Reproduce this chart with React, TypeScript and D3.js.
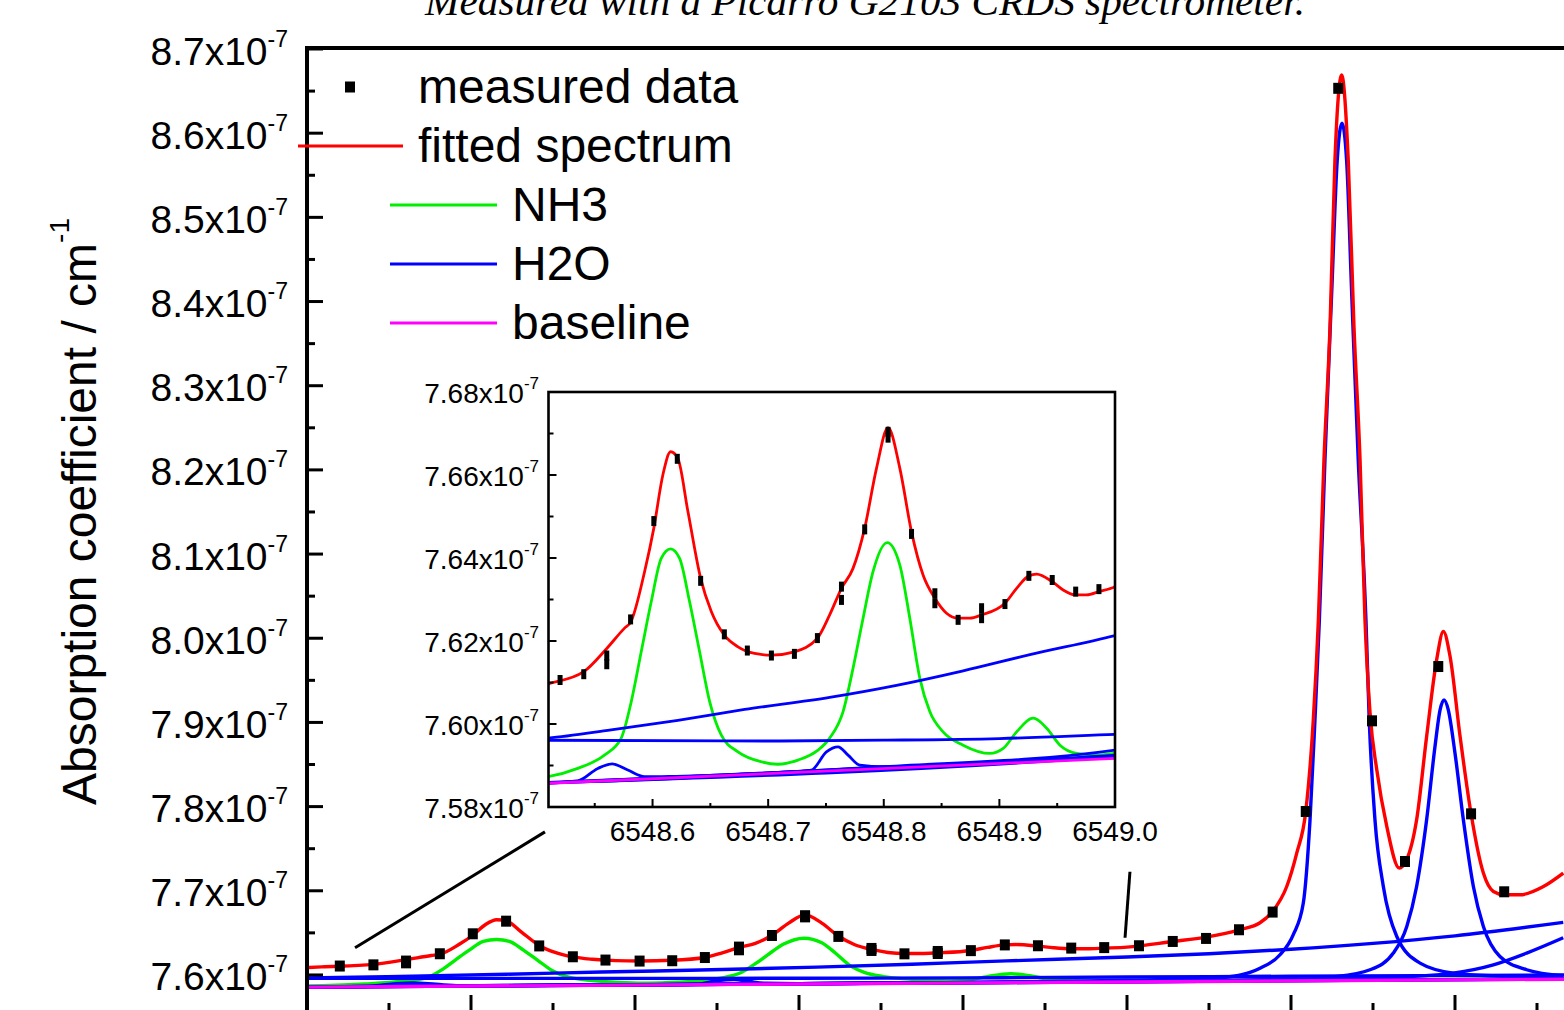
import * as React from 'react';
import * as d3 from 'd3';

const TITLE = 'Measured with a Picarro G2103 CRDS spectrometer.';
const Y_TITLE = 'Absorption coefficient / cm';

// [wavenumber cm-1, absorption in 1e-7 cm-1]
const measured: [number, number][] = [
  [6548.520, 7.6106], [6548.5405, 7.6120], [6548.5604, 7.6165], [6548.5604, 7.6144],
  [6548.581, 7.6252], [6548.6011, 7.6489], [6548.6214, 7.6639], [6548.6416, 7.6345],
  [6548.6621, 7.6216], [6548.682, 7.6177], [6548.7028, 7.6165], [6548.7227, 7.6169],
  [6548.7426, 7.6207], [6548.7634, 7.6331], [6548.7634, 7.6299], [6548.7835, 7.6469],
  [6548.8037, 7.6704], [6548.8037, 7.6690], [6548.824, 7.6458], [6548.8442, 7.6315],
  [6548.8442, 7.6291], [6548.8643, 7.6251], [6548.8846, 7.6279], [6548.8846, 7.6255],
  [6548.9048, 7.6289], [6548.9255, 7.6357], [6548.9457, 7.6347], [6548.966, 7.6319],
  [6548.9861, 7.6325], [6549.0073, 7.6347], [6549.0279, 7.6398], [6549.0482, 7.6434],
  [6549.0683, 7.6537], [6549.0888, 7.6747], [6549.109, 7.7942], [6549.1288, 8.6533],
  [6549.1494, 7.9019], [6549.1695, 7.7348], [6549.1898, 7.9664], [6549.2098, 7.7914],
  [6549.23, 7.6988],
];

const fitted: [number, number][] = [
  [6548.500, 7.6088], [6548.509, 7.6096], [6548.5405, 7.6126], [6548.5604, 7.6182],
  [6548.5758, 7.6231], [6548.581, 7.6245], [6548.5931, 7.6367], [6548.6011, 7.6472],
  [6548.6089, 7.6600], [6548.6156, 7.6656], [6548.6219, 7.6640], [6548.6306, 7.6512],
  [6548.6416, 7.6351], [6548.6508, 7.6271], [6548.6621, 7.6214], [6548.6739, 7.6186],
  [6548.6883, 7.6170], [6548.7028, 7.6166], [6548.7227, 7.6174], [6548.7426, 7.6207],
  [6548.7532, 7.6263], [6548.7634, 7.6327], [6548.7734, 7.6375], [6548.7835, 7.6472],
  [6548.7937, 7.6616], [6548.8037, 7.6714], [6548.8139, 7.6616], [6548.824, 7.6463],
  [6548.834, 7.6359], [6548.8442, 7.6303], [6548.8543, 7.6267], [6548.8643, 7.6255],
  [6548.8745, 7.6255], [6548.8846, 7.6263], [6548.9048, 7.6291], [6548.9149, 7.6327],
  [6548.9255, 7.6357], [6548.9322, 7.6361], [6548.9457, 7.6343], [6548.9552, 7.6323],
  [6548.966, 7.6311], [6548.9755, 7.6311], [6548.9861, 7.6319], [6549.0, 7.6331],
  [6549.0279, 7.6398], [6549.0482, 7.6450], [6549.0683, 7.6537], [6549.0811, 7.6620],
  [6549.0886, 7.6751], [6549.0974, 7.7051], [6549.1035, 7.7448], [6549.109, 7.7942],
  [6549.1136, 7.9031], [6549.1167, 8.0219], [6549.1201, 8.2119], [6549.1238, 8.3702],
  [6549.1268, 8.5682], [6549.1309, 8.6691], [6549.1349, 8.5682], [6549.1384, 8.3702],
  [6549.1421, 8.2119], [6549.1451, 8.0219], [6549.1482, 7.9110], [6549.1523, 7.8437],
  [6549.1584, 7.7764], [6549.166, 7.7270], [6549.1705, 7.7368], [6549.1766, 7.7843],
  [6549.1827, 7.8833], [6549.1888, 7.9743], [6549.1929, 8.0080], [6549.197, 7.9783],
  [6549.2031, 7.8833], [6549.2098, 7.7914], [6549.2173, 7.7210], [6549.2234, 7.6992],
  [6549.2301, 7.6952], [6549.2396, 7.6952], [6549.2539, 7.7051], [6549.266, 7.7210],
];

const nh3: [number, number][] = [
  [6548.500, 7.5870], [6548.5093, 7.5873], [6548.5353, 7.5893], [6548.5584, 7.5925],
  [6548.5729, 7.5966], [6548.5816, 7.6054], [6548.5902, 7.6174], [6548.5989, 7.6295],
  [6548.6075, 7.6399], [6548.6156, 7.6422], [6548.6234, 7.6399], [6548.632, 7.6295],
  [6548.6407, 7.6174], [6548.6494, 7.6054], [6548.6595, 7.5973], [6548.6739, 7.5933],
  [6548.6941, 7.5909], [6548.7085, 7.5903], [6548.7258, 7.5913], [6548.7431, 7.5937],
  [6548.7532, 7.5966], [6548.7648, 7.6030], [6548.7734, 7.6134], [6548.7821, 7.6255],
  [6548.7907, 7.6367], [6548.8029, 7.6437], [6548.8139, 7.6383], [6548.8225, 7.6255],
  [6548.8312, 7.6110], [6548.8398, 7.6030], [6548.8513, 7.5981], [6548.8686, 7.5949],
  [6548.8918, 7.5929], [6548.9033, 7.5941], [6548.9149, 7.5981], [6548.9293, 7.6014],
  [6548.9409, 7.5990], [6548.9524, 7.5949], [6548.9669, 7.5929], [6548.9841, 7.5925],
  [6549.0, 7.5929], [6549.1, 7.5937], [6549.27, 7.5957],
];

const baseline: [number, number][] = [
  [6548.5, 7.5856], [6549.0, 7.5917], [6549.3, 7.5954],
];

const h2oBroad: [number, number][] = [
  [6548.5, 7.5964], [6548.5093, 7.5966], [6548.5642, 7.5986], [6548.6219, 7.6009],
  [6548.6797, 7.6035], [6548.7532, 7.6064], [6548.811, 7.6093], [6548.8687, 7.6128],
  [6548.9264, 7.6167], [6549.0, 7.6213], [6549.05, 7.6252], [6549.1, 7.6305],
  [6549.15, 7.6375], [6549.2, 7.6465], [6549.266, 7.6625],
];

const h2oFlat: [number, number][] = [
  [6548.5, 7.5961], [6548.7, 7.5959], [6548.8, 7.5961], [6548.9, 7.5965],
  [6549.0, 7.5975], [6549.1, 7.5985], [6549.27, 7.6000],
];

const h2oSmallA: [number, number][] = [
  [6548.5, 7.5857], [6548.5353, 7.5863], [6548.5527, 7.5893], [6548.5651, 7.5904],
  [6548.5786, 7.5889], [6548.5931, 7.5873], [6548.62, 7.5874], [6548.8, 7.5896],
  [6549.0, 7.5919], [6549.27, 7.5953],
];

const h2oSmallB: [number, number][] = [
  [6548.5, 7.5857], [6548.7, 7.5881], [6548.7374, 7.5889], [6548.7504, 7.5933],
  [6548.7604, 7.5945], [6548.7691, 7.5925], [6548.7792, 7.5901], [6548.80, 7.5897],
  [6549.0, 7.5920], [6549.27, 7.5954],
];

const h2oWingRight: [number, number][] = [
  [6548.5, 7.5857], [6548.8, 7.5895], [6549.0, 7.5925], [6549.1, 7.5945],
  [6549.17, 7.5980], [6549.1988, 7.6022], [6549.2234, 7.6121], [6549.2437, 7.6260],
  [6549.266, 7.6442],
];

const h2oPeakA: [number, number][] = [
  [6548.5, 7.5858], [6548.8, 7.5897], [6549.0, 7.5937], [6549.05, 7.5962],
  [6549.065, 7.5985], [6549.075, 7.6030], [6549.0811, 7.6080], [6549.0933, 7.6240],
  [6549.1014, 7.6480], [6549.1075, 7.6854], [6549.1116, 7.7843], [6549.1146, 7.9031],
  [6549.1173, 8.0219], [6549.1207, 8.2119], [6549.1248, 8.4099], [6549.1282, 8.5682],
  [6549.1311, 8.6118], [6549.1339, 8.5682], [6549.137, 8.4099], [6549.141, 8.2119],
  [6549.1457, 8.0219], [6549.1477, 7.9031], [6549.1512, 7.7843], [6549.1563, 7.7051],
  [6549.1645, 7.6457], [6549.1787, 7.6141], [6549.199, 7.6022], [6549.2234, 7.5990],
  [6549.266, 7.5975],
];

const h2oPeakB: [number, number][] = [
  [6548.5, 7.5857], [6549.0, 7.5922], [6549.1, 7.5945], [6549.1254, 7.5975],
  [6549.1482, 7.6062], [6549.1624, 7.6260], [6549.1706, 7.6576], [6549.1766, 7.7051],
  [6549.1827, 7.7843], [6549.1878, 7.8714], [6549.1909, 7.9150], [6549.1933, 7.9268],
  [6549.1959, 7.9150], [6549.2, 7.8635], [6549.2051, 7.7843], [6549.2112, 7.7051],
  [6549.2173, 7.6576], [6549.2274, 7.6220], [6549.2437, 7.6062], [6549.266, 7.5990],
];

const h2oLines = [h2oBroad, h2oFlat, h2oSmallA, h2oSmallB, h2oWingRight, h2oPeakA, h2oPeakB];

const mainYTicks = [7.6, 7.7, 7.8, 7.9, 8.0, 8.1, 8.2, 8.3, 8.4, 8.5, 8.6, 8.7];
const mainXTicks = [6548.5, 6548.6, 6548.7, 6548.8, 6548.9, 6549.0, 6549.1, 6549.2, 6549.3];
const insetYTicks = [7.58, 7.60, 7.62, 7.64, 7.66, 7.68];
const insetXTicks = [6548.6, 6548.7, 6548.8, 6548.9, 6549.0];

const legendLines = [
  { label: 'fitted spectrum', color: '#ff0000' },
  { label: 'NH3', color: '#00ee00' },
  { label: 'H2O', color: '#0000ff' },
  { label: 'baseline', color: '#ff00ff' },
];

// zoom connector lines between the main plot and the inset, in main-plot data units
const zoomLinks: [number, number][][] = [
  [[6548.5293, 7.6323], [6548.6451, 7.770]],
  [[6548.9988, 7.6442], [6549.0018, 7.7226]],
];

const FONT = 'Liberation Sans, Arial, sans-serif';
const RED = '#ff0000';
const GREEN = '#00ee00';
const BLUE = '#0000ff';
const MAGENTA = '#ff00ff';

const midpoints = (t: number[]) => t.slice(1).map((v, i) => (v + t[i]) / 2);

const App = () => {
  const x = d3.scaleLinear().domain([6548.5, 6549.3]).range([307, 1619]);
  const y = d3.scaleLinear().domain([7.556, 8.7]).range([1012, 49]);
  const ix = d3.scaleLinear().domain([6548.51, 6549.0]).range([548.5, 1115]);
  const iy = d3.scaleLinear().domain([7.58, 7.68]).range([807, 392]);

  const mainLine = d3.line<[number, number]>()
    .x(d => x(d[0])).y(d => y(d[1])).curve(d3.curveMonotoneX);
  const insetLine = d3.line<[number, number]>()
    .x(d => ix(d[0])).y(d => iy(d[1])).curve(d3.curveMonotoneX);

  const curves = (gen: d3.Line<[number, number]>, sw: number) => (
    <g fill="none" strokeWidth={sw} strokeLinejoin="round">
      <path d={gen(nh3) || ''} stroke={GREEN} />
      {h2oLines.map((l, i) => <path key={i} d={gen(l) || ''} stroke={BLUE} />)}
      <path d={gen(baseline) || ''} stroke={MAGENTA} />
      <path d={gen(fitted) || ''} stroke={RED} />
    </g>
  );

  const [ix0, ix1] = ix.range();
  const [iy0, iy1] = iy.range();

  return (
    <div style={{ position: 'absolute', left: 0, top: 0 }}>
      <svg width={1564} height={1010} style={{ display: 'block', background: '#fff' }}>
        <defs>
          <clipPath id="mainClip">
            <rect x={307} y={48} width={1312} height={964} />
          </clipPath>
          <clipPath id="insetClip">
            <rect x={ix0} y={iy1} width={ix1 - ix0} height={iy0 - iy1} />
          </clipPath>
        </defs>

        <text x={425} y={15} fontFamily="Liberation Serif, Times New Roman, serif" fontStyle="italic"
          fontSize={40} textLength={880} lengthAdjust="spacingAndGlyphs">{TITLE}</text>

        {/* main plot data */}
        <g clipPath="url(#mainClip)">
          {curves(mainLine, 3.4)}
          {measured.map((d, i) => (
            <rect key={i} x={x(d[0]) - 5} y={y(d[1]) - 5.5} width={10} height={11} fill="#000" />
          ))}
        </g>

        {/* zoom connectors */}
        {zoomLinks.map((l, i) => (
          <line key={i} x1={x(l[0][0])} y1={y(l[0][1])} x2={x(l[1][0])} y2={y(l[1][1])}
            stroke="#000" strokeWidth={3} />
        ))}

        {/* main axes */}
        <g stroke="#000" strokeWidth={3}>
          {mainYTicks.map(t => <line key={'y' + t} x1={307} x2={323} y1={y(t)} y2={y(t)} />)}
          {midpoints(mainYTicks).map(t => <line key={'ym' + t} x1={307} x2={315} y1={y(t)} y2={y(t)} />)}
          {mainXTicks.map(t => <line key={'x' + t} x1={x(t)} x2={x(t)} y1={1012} y2={995} />)}
          {midpoints(mainXTicks).map(t => <line key={'xm' + t} x1={x(t)} x2={x(t)} y1={1012} y2={1003} />)}
        </g>
        <g stroke="#000" strokeWidth={4} fill="none">
          <line x1={307} x2={307} y1={46} y2={1012} />
          <line x1={305} x2={1619} y1={48} y2={48} />
          <line x1={307} x2={1619} y1={1012} y2={1012} />
        </g>
        <g fontFamily={FONT} fontSize={39} textAnchor="end" fill="#000">
          {mainYTicks.map(t => (
            <text key={t} x={288} y={y(t) + 15.5}>
              {t.toFixed(1)}x10<tspan dy={-18} fontSize={23}>-7</tspan>
            </text>
          ))}
        </g>
        <text transform="translate(96,805) rotate(-90)" fontFamily={FONT} fontSize={48} fill="#000">
          {Y_TITLE}<tspan dy={-27} fontSize={28}>-1</tspan>
        </text>

        {/* legend */}
        <g fontFamily={FONT} fontSize={48} fill="#000">
          <rect x={345} y={81.5} width={10} height={11} fill="#000" />
          <text x={418} y={103}>measured data</text>
          {legendLines.map((l, i) => {
            const ly = 146 + i * 59;
            const first = i === 0;
            return (
              <g key={l.label}>
                <line x1={first ? 298 : 390} x2={first ? 403 : 497} y1={ly} y2={ly}
                  stroke={l.color} strokeWidth={3} />
                <text x={first ? 418 : 512} y={ly + 16}>{l.label}</text>
              </g>
            );
          })}
        </g>

        {/* inset */}
        <rect x={ix0} y={iy1} width={ix1 - ix0} height={iy0 - iy1} fill="#fff" />
        <g clipPath="url(#insetClip)">
          {curves(insetLine, 2.8)}
          {measured.map((d, i) => (
            <rect key={i} x={ix(d[0]) - 2.5} y={iy(d[1]) - 5} width={5} height={10} fill="#000" />
          ))}
        </g>
        <g stroke="#000" strokeWidth={2}>
          {insetYTicks.map(t => <line key={'iy' + t} x1={ix0} x2={ix0 + 8} y1={iy(t)} y2={iy(t)} />)}
          {midpoints(insetYTicks).map(t => <line key={'iym' + t} x1={ix0} x2={ix0 + 5} y1={iy(t)} y2={iy(t)} />)}
          {insetXTicks.map(t => <line key={'ix' + t} x1={ix(t)} x2={ix(t)} y1={iy0} y2={iy0 - 8} />)}
          {[6548.55, ...midpoints(insetXTicks)].map(t => (
            <line key={'ixm' + t} x1={ix(t)} x2={ix(t)} y1={iy0} y2={iy0 - 4} />
          ))}
        </g>
        <rect x={ix0} y={iy1} width={ix1 - ix0} height={iy0 - iy1} fill="none" stroke="#000" strokeWidth={2.6} />
        <g fontFamily={FONT} fontSize={28} fill="#000">
          {insetYTicks.map(t => (
            <text key={t} x={539} y={iy(t) + 11} textAnchor="end">
              {t.toFixed(2)}x10<tspan dy={-14} fontSize={17}>-7</tspan>
            </text>
          ))}
          {insetXTicks.map(t => (
            <text key={t} x={ix(t)} y={841} textAnchor="middle">{t.toFixed(1)}</text>
          ))}
        </g>
      </svg>
    </div>
  );
};

export default App;
